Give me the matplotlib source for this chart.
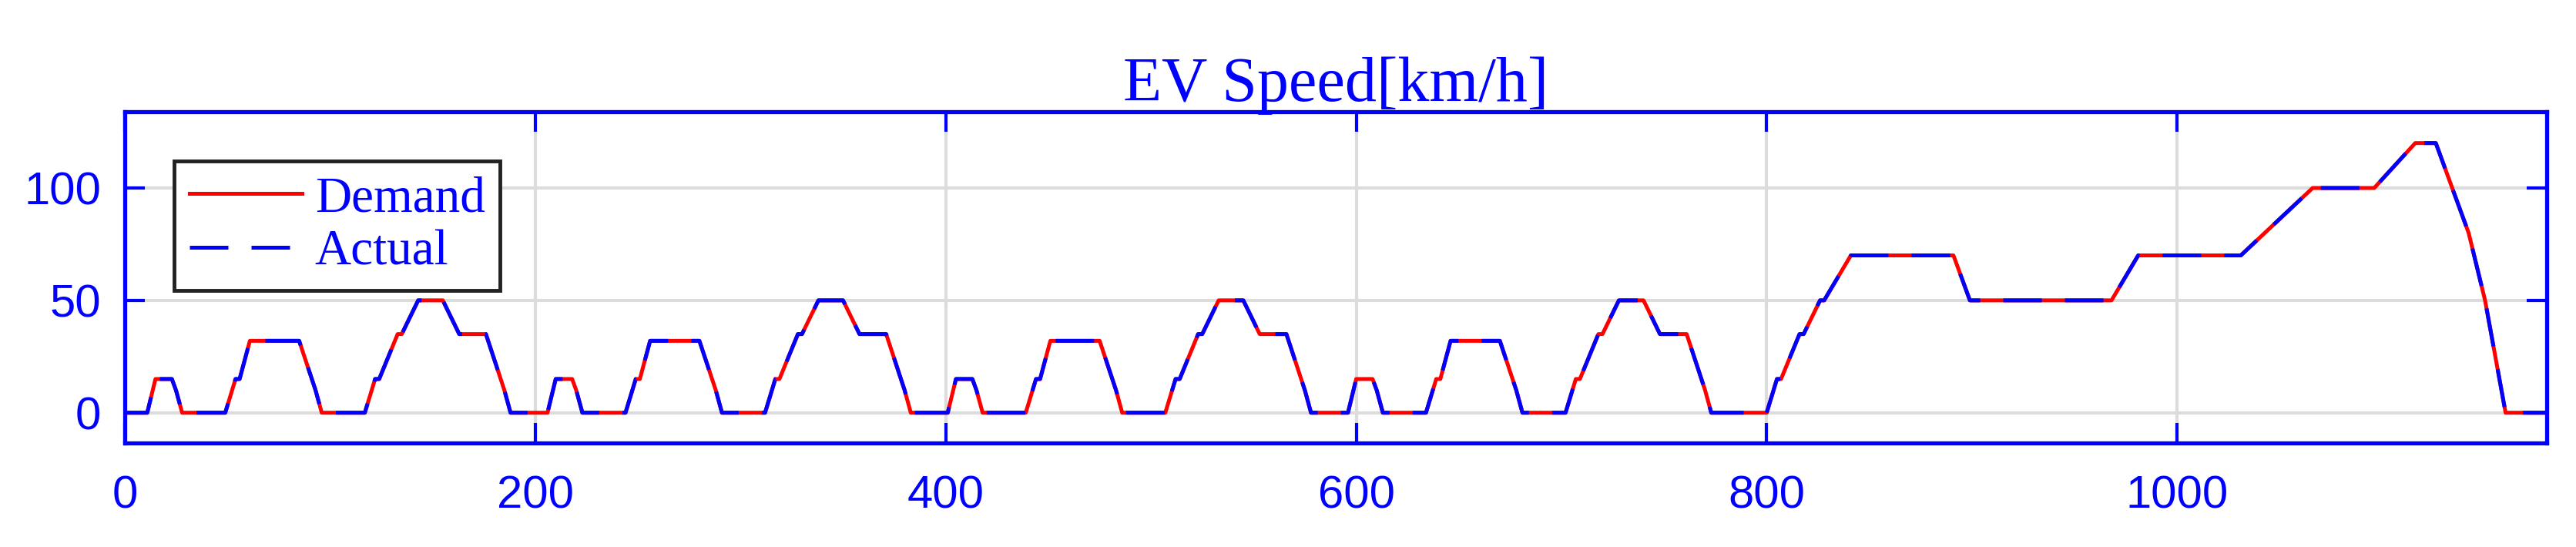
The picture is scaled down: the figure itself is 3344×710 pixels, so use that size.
import numpy as np
import matplotlib
matplotlib.use('Agg')
import matplotlib.pyplot as plt

# NEDC breakpoints
# urban part (ECE-15), repeated 4 times, 195 s each
ece_t = [0, 11, 15, 23, 25, 28, 49, 54, 56, 61, 85, 93, 96, 117, 122, 124, 133, 135,
         143, 155, 163, 176, 185, 188, 195]
ece_v = [0, 0, 15, 15, 10, 0, 0, 15, 15, 32, 32, 10, 0, 0, 15, 15, 35, 35,
         50, 50, 35, 35, 10, 0, 0]
ece_repeats = 4

# extra-urban part (EUDC), starts at 780 s
eudc_t = [0, 20, 25, 27, 36, 38, 46, 48, 61, 111, 119, 188, 201, 251, 286, 316,
          336, 346, 362, 370, 380, 400]
eudc_v = [0, 0, 15, 15, 35, 35, 50, 50, 70, 70, 50, 50, 70, 70, 100, 100,
          120, 120, 80, 50, 0, 0]

t = []
v = []
for k in range(ece_repeats):
    t += [x + 195 * k for x in ece_t]
    v += ece_v
t += [x + 195 * ece_repeats for x in eudc_t]
v += eudc_v

demand_t = np.array(t)
demand_v = np.array(v)
actual_t = demand_t
actual_v = demand_v

blue = '#0000ff'

fig = plt.figure(figsize=(33.44, 7.10), dpi=100)
ax = fig.add_axes([0.0484, 0.190, 0.9402, 0.606])

ax.plot(demand_t, demand_v, color='red', lw=3.6, label='Demand', zorder=3)
ax.plot(actual_t, actual_v, color=blue, lw=3.6, ls=(0, (10, 6)), label='Actual', zorder=4)

ax.set_xlim(0, 1180)
ax.set_ylim(-13.5, 134)
ax.set_xticks([0, 200, 400, 600, 800, 1000])
ax.set_yticks([0, 50, 100])

ax.grid(True, color='#dcdcdc', lw=3)
ax.set_axisbelow(True)
for s in ax.spines.values():
    s.set_color(blue)
    s.set_linewidth(3.8)
ax.tick_params(direction='in', length=19, width=3, color=blue, labelcolor=blue,
               labelsize=43, top=True, right=True)
ax.tick_params(axis='x', pad=30)
ax.tick_params(axis='y', pad=22)
for lab in ax.get_xticklabels() + ax.get_yticklabels():
    lab.set_fontfamily('Liberation Sans')

ax.set_title('EV Speed[km/h]', color=blue, fontsize=59, family='Liberation Serif', pad=10)

leg = ax.legend(loc='upper left', bbox_to_anchor=(0.0204, 0.851), borderaxespad=0,
                prop={'family': 'Liberation Serif', 'size': 47}, fancybox=False,
                handlelength=2.25, handletextpad=0.25, labelspacing=0.15,
                borderpad=0.3, framealpha=1)
leg.get_frame().set_edgecolor('#222222')
leg.get_frame().set_linewidth(3.5)
for txt in leg.get_texts():
    txt.set_color(blue)

fig.savefig('out.png', dpi=100)
